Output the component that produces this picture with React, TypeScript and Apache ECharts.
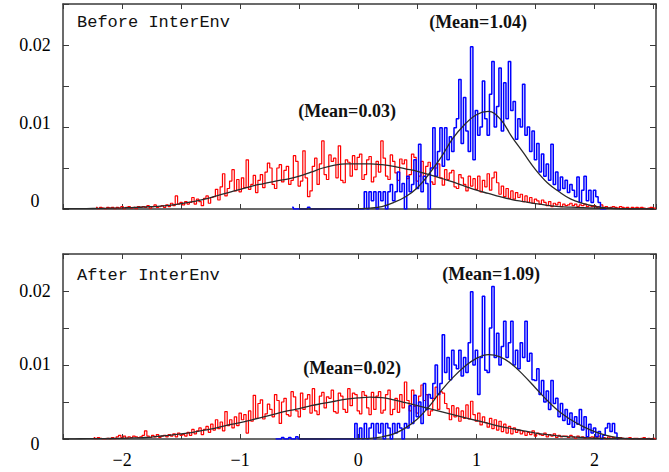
import React, { useEffect, useRef } from "react";
import * as echarts from "echarts";

// ---------- axis ticks / labels ----------
const X_MIN = -2.5;
const X_MAX = 2.52;
const X_TICK_STEP = 0.5;
const X_LABELS = [-2, -1, 0, 1, 2];
const Y_MAX = 0.025;
const Y_TICK_STEP = 0.005;
const Y_LABELS = ["0", "0.01", "0.02"];

// ---------- histogram bins (width 0.02, values in units of 1e-4) ----------
const BIN = 0.02;
const UNIT = 1e-4;

const BEFORE_RED_START = -2.22;
const BEFORE_RED = [
  2, 0, 2, 1, 0, 2, 1, 2, 0, 2,
  1, 3, 0, 2, 3, 1, 2, 0, 3, 2,
  3, 2, 4, 1, 3, 5, 2, 3, 4, 2,
  5, 3, 7, 4, 16, 6, 8, 5, 9, 6,
  8, 14, 6, 12, 9, 4, 13, 16, 7, 14,
  15, 24, 11, 27, 43, 16, 25, 34, 48, 22,
  36, 21, 38, 26, 60, 24, 30, 41, 20, 35,
  42, 26, 45, 56, 50, 30, 25, 50, 54, 33,
  47, 52, 30, 35, 65, 58, 28, 34, 71, 38,
  15, 22, 52, 62, 30, 55, 83, 42, 36, 66,
  58, 62, 38, 77, 35, 32, 60, 57, 40, 65,
  48, 63, 67, 36, 42, 60, 64, 33, 39, 58,
  45, 83, 62, 40, 36, 66, 58, 44, 35, 61,
  55, 60, 37, 42, 67, 63, 34, 40, 58, 36,
  52, 57, 33, 30, 50, 55, 38, 29, 48, 36,
  44, 47, 27, 25, 42, 38, 30, 22, 40, 28,
  37, 24, 40, 21, 35, 27, 43, 23, 38, 45,
  32, 18, 28, 15, 25, 13, 22, 12, 20, 14,
  18, 9, 16, 8, 14, 7, 12, 10, 6, 11,
  8, 4, 9, 3, 7, 5, 8, 3, 6, 4,
  5, 7, 4, 6, 3, 5, 4, 6, 3, 4,
  3, 4, 2, 3, 5, 2, 3, 1, 2, 3,
  2, 1, 3, 2, 1, 2, 0, 2, 1, 2,
  1, 2, 1, 0, 1, 2, 1, 1,
];

const BEFORE_BLUE_START = -0.56;
const BEFORE_BLUE = [
  2, 0, 0, 0, 0, 0, 0, 2, 0, 0,
  0, 0, 0, 0, 0, 0, 0, 0, 0, 0,
  0, 0, 0, 0, 0, 0, 0, 0, 0, 0,
  0, 21, 0, 21, 10, 21, 0, 21, 10, 21,
  0, 21, 30, 10, 21, 45, 21, 31, 0, 40,
  21, 30, 60, 25, 79, 21, 40, 31, 0, 50,
  99, 40, 70, 99, 52, 99, 60, 88, 70, 99,
  110, 158, 80, 136, 95, 70, 198, 60, 120, 90,
  100, 156, 110, 90, 140, 180, 100, 125, 172, 95,
  154, 110, 180, 120, 131, 85, 110, 100, 152, 90,
  100, 70, 95, 60, 80, 45, 67, 40, 55, 35,
  79, 30, 45, 23, 39, 25, 35, 20, 30, 23,
  15, 39, 8, 23, 40, 10, 23, 8, 23, 15,
  8, 0, 0, 0,
];

const AFTER_RED_START = -2.24;
const AFTER_RED = [
  2, 0, 2, 1, 0, 0, 1, 0, 2, 0,
  3, 5, 2, 4, 1, 3, 2, 4, 3, 2,
  3, 5, 11, 4, 2, 5, 3, 6, 2, 4,
  5, 3, 6, 4, 7, 3, 8, 5, 6, 4,
  9, 5, 13, 7, 11, 15, 6, 13, 17, 9,
  20, 12, 26, 14, 23, 11, 37, 18, 26, 15,
  30, 18, 35, 26, 33, 8, 38, 24, 59, 28,
  48, 53, 27, 34, 47, 40, 30, 60, 52, 21,
  50, 55, 33, 31, 64, 57, 38, 30, 62, 40,
  54, 60, 35, 68, 38, 33, 58, 63, 42, 57,
  55, 66, 37, 35, 62, 58, 40, 36, 68, 45,
  62, 60, 38, 34, 64, 59, 42, 33, 63, 40,
  58, 64, 35, 39, 60, 66, 33, 40, 55, 36,
  60, 42, 77, 52, 38, 66, 44, 35, 58, 73,
  52, 60, 32, 38, 55, 70, 40, 64, 62, 48,
  41, 26, 45, 30, 42, 24, 38, 28, 46, 27,
  51, 33, 24, 35, 19, 30, 22, 16, 28, 14,
  26, 12, 24, 10, 20, 8, 17, 7, 15, 9,
  12, 7, 10, 5, 9, 6, 11, 4, 8, 6,
  5, 8, 3, 6, 4, 7, 2, 5, 3, 4,
  4, 2, 5, 3, 1, 4, 2, 3, 1, 3,
  2, 3, 1, 2, 4, 1, 2, 0, 3, 1,
  2, 1, 0, 2, 1, 0, 1, 2, 0, 1,
  1, 0, 1, 2, 0, 1, 0, 1, 0,
];

const AFTER_BLUE_START = -0.7;
const AFTER_BLUE = [
  0, 0, 0, 2, 0, 0, 2, 0, 0, 3,
  0, 0, 0, 0, 0, 0, 0, 0, 0, 0,
  0, 0, 0, 0, 0, 0, 0, 0, 0, 0,
  0, 0, 0, 0, 21, 0, 15, 0, 21, 0,
  15, 21, 0, 21, 8, 21, 0, 21, 15, 0,
  21, 8, 21, 15, 0, 21, 15, 45, 21, 59,
  30, 50, 21, 75, 40, 60, 55, 75, 100, 60,
  75, 141, 90, 110, 80, 120, 100, 95, 120, 85,
  110, 90, 130, 199, 100, 120, 60, 110, 193, 93,
  90, 150, 206, 110, 143, 100, 125, 159, 110, 130,
  159, 100, 120, 95, 130, 110, 159, 105, 116, 80,
  79, 95, 60, 79, 50, 65, 40, 79, 48, 55,
  30, 48, 25, 40, 20, 35, 16, 30, 20, 40,
  12, 30, 3, 20, 8, 15, 3, 10, 0, 5,
  15, 21, 10, 21, 8, 0,
];

// ---------- fitted normal curves (step 0.1, values in units of 1e-4) ----------
const FIT_STEP = 0.1;
const BEFORE_RED_FIT_START = -2.5;
const BEFORE_RED_FIT = [
  0.3, 0.4, 0.5, 0.7, 1.0, 1.3, 1.8, 2.5, 3.2, 4.5,
  6.5, 9, 12, 16, 20, 24, 28, 31, 34, 36.5,
  40, 45, 50, 53.5, 55, 55, 55, 54, 52, 49,
  46, 42, 37.5, 33, 28, 23, 19, 15, 11.5, 9,
  6.5, 4.5, 3, 2.2, 1.6, 1.1, 0.8, 0.5, 0.3, 0.2, 0.1,
];
const BEFORE_BLUE_FIT_START = -0.5;
const BEFORE_BLUE_FIT = [
  0, 0, 0, 0.1, 0.2, 0.4, 1, 3, 8, 15,
  26, 43, 63, 86, 103, 115, 119, 110, 88, 68,
  48, 32, 21, 12, 7, 3.5, 1.2, 0.5, 0.2, 0.1, 0,
];
const AFTER_RED_FIT_START = -2.5;
const AFTER_RED_FIT = [
  0.2, 0.3, 0.4, 0.5, 0.7, 1.0, 1.5, 2, 3.5, 5,
  7, 9, 12, 15, 19, 22, 26, 30, 34, 38,
  41, 45, 48, 51, 54, 55.5, 56.5, 56, 53, 49,
  45, 41, 37, 33, 29, 25, 21, 17, 14, 11,
  8, 6, 4, 3, 2, 1, 0.7, 0.5, 0.3, 0.2, 0.1,
];
const AFTER_BLUE_FIT_START = -0.5;
const AFTER_BLUE_FIT = [
  0, 0, 0, 0.1, 0.2, 0.4, 0.8, 3, 7, 15,
  27, 44, 65, 83, 98, 109, 114, 111, 101, 86,
  69, 52, 37, 26, 17, 10, 5, 2, 0.5, 0.2, 0,
];

// ---------- annotation texts ----------
const PANEL_TITLES = ["Before InterEnv", "After InterEnv"];
const MEAN_LABELS = [
  ["(Mean=0.03)", "(Mean=1.04)"],
  ["(Mean=0.02)", "(Mean=1.09)"],
];

const toPoints = (start: number, step: number, vals: number[]) =>
  vals.map((v, i) => [Number((start + i * step).toFixed(4)), v * UNIT]);

const GRID_LEFT = 63;
const GRID_WIDTH = 593;
const GRIDS = [
  { top: 4, height: 205 },
  { top: 254, height: 185 },
];

const AXIS_COLOR = "#3a3a3a";

function xFormatter(v: number) {
  const r = Math.round(v);
  if (Math.abs(v - r) > 1e-6 || !X_LABELS.includes(r)) return "";
  return r < 0 ? "\u2212" + Math.abs(r) : String(r);
}

export default function App() {
  const ref = useRef<HTMLDivElement>(null);

  useEffect(() => {
    if (!ref.current) return;
    const chart = echarts.init(ref.current, undefined, { renderer: "svg" });

    const xAxes: any[] = [];
    const yAxes: any[] = [];
    const series: any[] = [];

    GRIDS.forEach((_, g) => {
      const base = {
        gridIndex: g,
        type: "value",
        min: X_MIN,
        max: X_MAX,
        interval: X_TICK_STEP,
        splitLine: { show: false },
        axisLine: { show: true, onZero: false, lineStyle: { color: AXIS_COLOR, width: 1.5 } },
        axisTick: { show: true, inside: true, length: 5, lineStyle: { color: AXIS_COLOR, width: 1 } },
      };
      xAxes.push({
        ...base,
        position: "bottom",
        axisLabel: {
          show: g === 1,
          formatter: xFormatter,
          fontFamily: "Liberation Serif",
          fontSize: 18,
          color: "#000",
          margin: 12,
          showMinLabel: true,
          showMaxLabel: false,
        },
      });
      xAxes.push({ ...base, position: "top", axisLabel: { show: false } });

      const yBase = {
        gridIndex: g,
        type: "value",
        min: 0,
        max: Y_MAX,
        interval: Y_TICK_STEP,
        splitLine: { show: false },
        axisLine: { show: true, onZero: false, lineStyle: { color: AXIS_COLOR, width: 1.5 } },
        axisTick: { show: true, inside: true, length: 6, lineStyle: { color: AXIS_COLOR, width: 1 } },
      };
      yAxes.push({
        ...yBase,
        position: "left",
        axisLabel: {
          show: true,
          align: "center",
          margin: 28,
          fontFamily: "Liberation Serif",
          fontSize: 18,
          color: "#000",
          formatter: (v: number) => {
            const idx = Math.round(v / 0.01);
            if (Math.abs(v - idx * 0.01) > 1e-9 || idx > 2) return "";
            const key = (g === 0 ? "t" : "b") + idx;
            return "{" + key + "|" + Y_LABELS[idx] + "}";
          },
          rich: {
            t0: { fontFamily: "Liberation Serif", fontSize: 18, padding: [0, 0, 16, 0] },
            t1: { fontFamily: "Liberation Serif", fontSize: 18, padding: [0, 0, 8, 0] },
            t2: { fontFamily: "Liberation Serif", fontSize: 18 },
            b0: { fontFamily: "Liberation Serif", fontSize: 18, padding: [9, 0, 0, 0] },
            b1: { fontFamily: "Liberation Serif", fontSize: 18, padding: [0, 0, 2, 0] },
            b2: { fontFamily: "Liberation Serif", fontSize: 18 },
          },
        },
      });
      yAxes.push({ ...yBase, position: "right", axisLabel: { show: false } });
    });

    const hists = [
      [
        { start: BEFORE_RED_START, vals: BEFORE_RED, color: "#ff0000", w: 1.2 },
        { start: BEFORE_BLUE_START, vals: BEFORE_BLUE, color: "#0000ff", w: 1.5 },
      ],
      [
        { start: AFTER_RED_START, vals: AFTER_RED, color: "#ff0000", w: 1.2 },
        { start: AFTER_BLUE_START, vals: AFTER_BLUE, color: "#0000ff", w: 1.5 },
      ],
    ];
    const fits = [
      [
        { start: BEFORE_RED_FIT_START, vals: BEFORE_RED_FIT },
        { start: BEFORE_BLUE_FIT_START, vals: BEFORE_BLUE_FIT },
      ],
      [
        { start: AFTER_RED_FIT_START, vals: AFTER_RED_FIT },
        { start: AFTER_BLUE_FIT_START, vals: AFTER_BLUE_FIT },
      ],
    ];

    GRIDS.forEach((_, g) => {
      hists[g].forEach((h) => {
        series.push({
          type: "line",
          xAxisIndex: g * 2,
          yAxisIndex: g * 2,
          data: toPoints(h.start, BIN, h.vals),
          step: "middle",
          showSymbol: false,
          lineStyle: { color: h.color, width: h.w },
          itemStyle: { color: h.color },
          silent: true,
          z: 2,
        });
      });
      fits[g].forEach((f) => {
        series.push({
          type: "line",
          xAxisIndex: g * 2,
          yAxisIndex: g * 2,
          data: toPoints(f.start, FIT_STEP, f.vals),
          smooth: 0.4,
          showSymbol: false,
          lineStyle: { color: "#2a2a2a", width: 1.3 },
          itemStyle: { color: "#2a2a2a" },
          silent: true,
          z: 3,
        });
      });
    });

    const titleFont = { fontFamily: "Liberation Mono", fontSize: 17, fill: "#111" };
    const meanFont = { fontFamily: "Liberation Serif", fontSize: 18, fontWeight: "bold", fill: "#111" };

    const graphic: any[] = [
      { type: "text", x: 77, y: 22.5, style: { text: PANEL_TITLES[0], ...titleFont, align: "left", verticalAlign: "middle" } },
      { type: "text", x: 77, y: 275.5, style: { text: PANEL_TITLES[1], ...titleFont, align: "left", verticalAlign: "middle" } },
      { type: "text", x: 347, y: 111, style: { text: MEAN_LABELS[0][0], ...meanFont, align: "center", verticalAlign: "middle" } },
      { type: "text", x: 478, y: 21.5, style: { text: MEAN_LABELS[0][1], ...meanFont, align: "center", verticalAlign: "middle" } },
      { type: "text", x: 352, y: 368, style: { text: MEAN_LABELS[1][0], ...meanFont, align: "center", verticalAlign: "middle" } },
      { type: "text", x: 491, y: 273.5, style: { text: MEAN_LABELS[1][1], ...meanFont, align: "center", verticalAlign: "middle" } },
    ];

    chart.setOption({
      animation: false,
      backgroundColor: "#ffffff",
      grid: GRIDS.map((gr) => ({ left: GRID_LEFT, top: gr.top, width: GRID_WIDTH, height: gr.height, containLabel: false })),
      xAxis: xAxes,
      yAxis: yAxes,
      series,
      graphic,
    });

    return () => chart.dispose();
  }, []);

  return (
    <div
      ref={ref}
      style={{ position: "absolute", left: 0, top: 0, width: 669, height: 472, background: "#fff" }}
    />
  );
}
